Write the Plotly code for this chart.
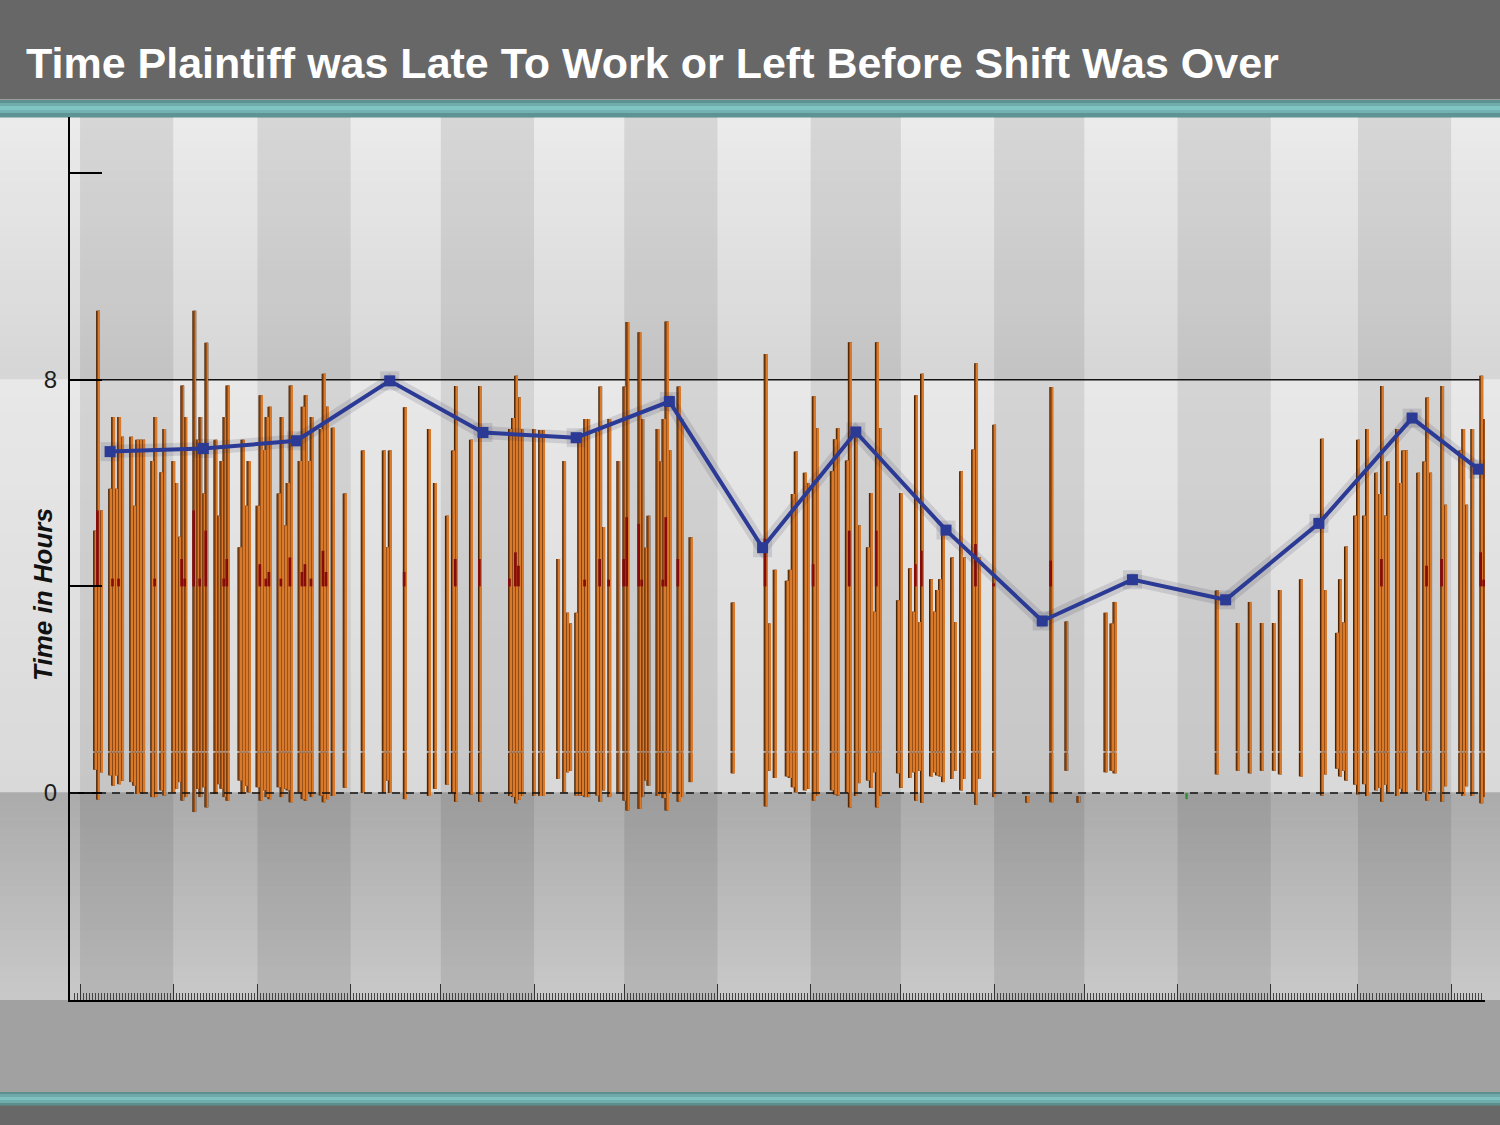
import numpy as np
import pandas as pd
import plotly.graph_objects as go

# ---------------- data ----------------
START = pd.Timestamp("1999-01-01")

# workday (days since START), departure time (top, hours) and arrival offset (bottom, hours)
bar_days = [5, 6, 7, 10, 11, 12, 13, 14, 17, 18, 19, 20, 21, 24, 25, 27, 28, 31, 32, 33, 34, 35,
            38, 39, 40, 41, 42, 45, 46, 47, 48, 49, 53, 54, 55, 56, 59, 60, 61, 62, 63, 66, 67, 68,
            69, 70, 73, 74, 75, 76, 77,
            80, 81, 82, 84, 88, 94, 101, 102, 103, 108, 116, 118, 122, 124, 125, 130, 133, 143, 144,
            145, 146, 147, 151, 153, 154, 159,
            161, 162, 163, 165, 166, 167, 168, 169, 172, 173, 174, 176, 179, 181, 182, 186, 187, 188,
            189, 192, 193, 194, 195, 196, 199, 200, 203, 217, 228, 229, 231, 235, 236, 237, 238,
            241, 242, 244, 245, 250, 251, 252, 255, 256, 258, 259, 262, 263, 264, 265, 266, 272, 273,
            276, 277, 278, 279, 280, 283, 284, 285, 286, 287, 290, 291, 293, 294, 297, 298, 299, 304,
            315, 323, 328, 332, 341, 343, 344, 378, 385, 389, 393, 397, 399,
            406, 413, 414, 418, 419, 420, 421, 424, 425, 427, 428, 431, 432, 433, 434, 435, 438, 439,
            440, 441, 445, 447, 448, 449, 453, 454, 459, 460, 461, 463, 466, 467]
bar_top = [5.08, 9.34, 5.47, 5.89, 7.28, 5.89, 7.28, 6.90, 6.90, 5.56, 6.84, 6.84, 6.84, 6.43, 7.28,
           6.21, 7.05, 6.43, 6.00, 4.96, 7.89, 7.28,
           9.34, 6.84, 7.28, 5.80, 8.72, 6.84, 5.37, 6.43, 7.28, 7.89, 4.76, 6.84, 5.56, 6.43, 5.56,
           7.70, 6.64, 7.28, 7.48, 5.80, 7.28, 5.18,
           6.00, 7.89, 6.43, 7.48, 7.70, 6.43, 7.28,
           7.05, 8.12, 7.48, 7.07, 5.80, 6.63, 6.63, 4.76, 6.63, 7.47, 7.05, 6.00, 5.37, 6.63, 7.88,
           6.84, 7.88, 7.05, 7.26,
           8.08, 7.66, 7.05, 7.05, 7.03, 7.03, 4.53,
           6.43, 3.49, 3.28, 3.49, 6.97, 6.97, 7.24, 7.24, 6.99, 7.87, 5.15, 7.24, 6.43, 7.87, 9.12,
           8.92, 7.24, 4.75,
           5.37, 7.05, 6.42, 7.24, 9.13, 6.63, 7.87, 7.24, 4.95, 3.69, 8.50, 3.28, 4.32, 4.11, 4.32,
           5.79, 6.61,
           6.20, 6.00, 7.68, 7.06, 6.23, 6.85, 7.06, 6.44, 8.73, 6.89, 5.18, 4.76, 5.81, 3.51, 8.73,
           7.06, 3.73, 5.81,
           4.35, 3.51, 7.70, 3.31, 8.12, 4.14, 3.51, 3.93, 4.14, 5.08, 4.56, 3.31, 6.23, 4.56, 6.65,
           8.32, 4.56, 7.13,
           -0.06, 7.86, 3.32, -0.06, 3.49, 3.28, 3.70, 3.92, 3.29, 3.70, 3.29, 3.29, 3.93,
           4.14, 6.86, 3.93, 3.10, 4.14, 3.30, 4.77, 5.37, 6.84, 5.37, 7.05, 6.20, 5.79, 7.88, 5.37,
           6.42, 7.05, 6.00,
           6.63, 6.63, 6.20, 6.42, 7.66, 6.20, 7.88, 5.58, 6.63, 7.05, 5.58, 7.05, 8.08, 7.24]
bar_bottom = [0.45, -0.13, 0.40, 0.34, 0.14, 0.34, 0.17, 0.24, 0.21, 0.14, -0.02, 0.01, -0.02, -0.08,
              -0.08, 0.05, -0.05, 0.01, 0.08, 0.21, -0.15, -0.08,
              -0.37, 0.08, -0.08, 0.11, -0.28, -0.02, 0.17, 0.08, -0.08, -0.15, 0.24, -0.02, 0.14,
              0.01, 0.11, -0.15, 0.05, -0.08, -0.12, 0.11, -0.08, 0.08,
              0.05, -0.18, 0.01, -0.12, -0.15, 0.01, -0.08,
              -0.05, -0.18, -0.12, -0.06, 0.10, 0.00, 0.00, 0.24, 0.00, -0.12, -0.06, 0.08, 0.16,
              0.00, -0.17, -0.03, -0.17, -0.06, -0.08,
              -0.20, -0.13, -0.06, -0.06, -0.06, -0.06, 0.27,
              0.01, 0.40, 0.43, -0.05, -0.05, -0.05, -0.08, -0.08, -0.05, -0.17, 0.05, -0.08, 0.01,
              -0.15, -0.34, -0.31, -0.08, 0.24,
              0.14, -0.06, 0.01, -0.10, -0.34, 0.00, -0.17, -0.08, 0.21, 0.38, -0.26, 0.43, 0.29,
              0.32, 0.29, 0.11, 0.01,
              0.05, 0.08, -0.15, -0.06, 0.05, -0.03, -0.05, 0.01, -0.28, -0.06, 0.19, 0.24, 0.10,
              0.40, -0.28, -0.05, 0.38, 0.10,
              0.29, 0.40, -0.15, 0.43, -0.19, 0.32, 0.40, 0.34, 0.32, 0.21, 0.27, 0.43, 0.05, 0.27,
              0.01, -0.23, 0.27, -0.08,
              -0.19, -0.18, 0.43, -0.19, 0.40, 0.43, 0.38, 0.36, 0.43, 0.38, 0.43, 0.43, 0.36,
              0.32, -0.05, 0.36, 0.47, 0.32, 0.43, 0.24, 0.16, -0.03, 0.17, -0.06, 0.05, 0.10, -0.17,
              0.16, 0.01, -0.06, 0.08,
              0.00, 0.00, 0.05, 0.01, -0.15, 0.05, -0.17, 0.13, 0.00, -0.06, 0.13, -0.06, -0.20,
              -0.08]

# lunch-break segments (dark red), from LUNCH_FROM up to lunch_top
LUNCH_FROM = 4.0
lunch_days = [6, 11, 13, 25, 34, 35, 38, 40, 42, 48, 49, 60, 62, 63, 67, 70, 74, 75, 77,
              81, 82, 108, 125, 133, 143, 145, 146,
              168, 173, 176, 181, 182, 186, 187, 194, 195, 199, 228,
              244, 256, 265, 278, 280, 298, 304, 323, 433, 448, 453, 466, 467]
lunch_top = [5.47, 4.15, 4.15, 4.15, 4.53, 4.15, 5.47, 4.15, 5.08, 4.15, 4.53, 4.43, 4.15, 4.28,
             4.15, 4.56, 4.28, 4.43, 4.15,
             4.69, 4.28, 4.28, 4.53, 4.53, 4.15, 4.66, 4.40,
             4.13, 4.53, 4.13, 4.53, 5.34, 5.21, 4.13, 4.13, 5.34, 4.53, 4.92,
             4.43, 5.08, 5.08, 4.43, 4.69, 4.82, 4.06, 4.50, 4.53, 4.40, 4.53, 4.66, 4.13]

# small negative entry shown in green
green_days = [368]
green_bottom = [-0.12]

# monthly average line
avg_days = [10, 41, 72, 103, 134, 165, 196, 227, 258, 288, 320, 350, 381, 412, 443, 465]
avg_hours = [6.61, 6.67, 6.82, 7.98, 6.98, 6.88, 7.58, 4.75, 6.99, 5.09, 3.33, 4.13, 3.74, 5.22,
             7.26, 6.27]

SHIFT_HOURS = 8
Y_TICKS = [0, 4, 8, 12]
Y_TICK_TEXT = ["0", "", "8", ""]
TITLE = "Time Plaintiff was Late To Work or Left Before Shift Was Over"
Y_TITLE = "Time in Hours"

# ---------------- geometry / styling ----------------
W, H = 1500, 1125
PX_L, PX_R, PX_T, PX_B = 70, 1485, 117, 1000
Y0, Y1 = -4.01, 13.09
DAY_MS = 86400000
X0 = START - pd.Timedelta(days=3.33)
X1 = START + pd.Timedelta(days=467.25)
XD = [PX_L / W, PX_R / W]
YD = [1 - PX_B / H, 1 - PX_T / H]


def py(v):
    return YD[0] + (v - Y0) / (Y1 - Y0) * (YD[1] - YD[0])


def ppx(ypx):
    return 1 - ypx / H


def hexc(c):
    c = c.lstrip('#')
    return [int(c[i:i + 2], 16) for i in (0, 2, 4)]


def mix(c0, c1, t):
    a, b = hexc(c0), hexc(c1)
    return 'rgb(%d,%d,%d)' % tuple(round(a[i] + (b[i] - a[i]) * t) for i in range(3))


shapes = []


def grad(y0, y1, cbot, ctop, n=24, x0=0, x1=1):
    for i in range(n):
        ya = y0 + (y1 - y0) * i / n
        yb = y0 + (y1 - y0) * (i + 1) / n
        shapes.append(dict(type='rect', xref='paper', yref='paper', x0=x0, x1=x1, y0=ya, y1=yb + 0.0005,
                           fillcolor=mix(cbot, ctop, (i + 0.5) / n), line=dict(width=0), layer='below'))


# horizontal zones
grad(py(SHIFT_HOURS), YD[1], '#d6d6d6', '#ebebeb')
grad(py(0), py(SHIFT_HOURS), '#d9d9d9', '#e8e8e8')
grad(YD[0], py(0), '#c9c9c9', '#ababab')
# bottom area and header
shapes.append(dict(type='rect', xref='paper', yref='paper', x0=0, x1=1, y0=ppx(1092), y1=YD[0],
                   fillcolor='#a1a1a1', line=dict(width=0), layer='below'))
shapes.append(dict(type='rect', xref='paper', yref='paper', x0=0, x1=1, y0=0, y1=ppx(1105),
                   fillcolor='#686868', line=dict(width=0), layer='below'))
shapes.append(dict(type='rect', xref='paper', yref='paper', x0=0, x1=1, y0=ppx(99), y1=1,
                   fillcolor='#676767', line=dict(width=0), layer='below'))
for (a, b, c) in [(99, 100, '#9c9c9c'), (100, 103, '#5e9191'), (103, 106, '#6fabab'),
                  (106, 110, '#80c4c4'), (110, 113, '#72b2b2'), (113, 117.5, '#5d9393'),
                  (1092, 1094, '#5e8f8f'), (1094, 1097, '#6fa9a9'), (1097, 1100, '#7fc0c0'),
                  (1100, 1103, '#70acac'), (1103, 1105.5, '#5d8e8e')]:
    shapes.append(dict(type='rect', xref='paper', yref='paper', x0=0, x1=1, y0=ppx(b), y1=ppx(a),
                       fillcolor=c, line=dict(width=0), layer='below'))

# alternating month bands (odd months darker)
months = pd.date_range('1999-01-01', '2000-05-01', freq='MS')
for m0, m1 in zip(months[:-1], months[1:]):
    if m0.month % 2 == 1:
        shapes.append(dict(type='rect', xref='x', yref='paper', x0=m0, x1=min(m1, X1),
                           y0=YD[0], y1=YD[1], fillcolor='rgba(0,0,0,0.085)', line=dict(width=0),
                           layer='below'))

# reference lines
shapes.append(dict(type='line', xref='paper', yref='y', x0=XD[0], x1=XD[1] - 0.003,
                   y0=SHIFT_HOURS, y1=SHIFT_HOURS, line=dict(color='#111', width=1.5), layer='below'))
shapes.append(dict(type='line', xref='paper', yref='y', x0=XD[0], x1=XD[1] - 0.003, y0=0, y1=0,
                   line=dict(color='#111', width=1.5, dash='8px,6px'), layer='above'))

# ---------------- traces ----------------
days = np.array(bar_days)
top = np.array(bar_top)
bot = np.array(bar_bottom)
xd = START + pd.to_timedelta(days, unit='D')
SPLIT, GAP = 0.78, 0.025
low_base = bot
low_h = np.clip(np.minimum(top, SPLIT) - bot, 0, None)
up_base = np.full_like(top, SPLIT + GAP)
up_h = np.clip(top - (SPLIT + GAP), 0, None)

fig = go.Figure()
layers = [('#4a2305', 1.3, -0.65), ('#9c5218', 0.9, -0.3), ('#d97a2b', 0.3, 0.25)]
for base, hgt in [(low_base, low_h), (up_base, up_h)]:
    for col, w, off in layers:
        fig.add_trace(go.Bar(x=xd, y=hgt, base=base, width=w * DAY_MS, offset=off * DAY_MS,
                             marker=dict(color=col, line=dict(width=0)), showlegend=False,
                             hoverinfo='skip'))

ld = START + pd.to_timedelta(np.array(lunch_days), unit='D')
fig.add_trace(go.Bar(x=ld, y=np.array(lunch_top) - LUNCH_FROM, base=LUNCH_FROM,
                     width=0.9 * DAY_MS, offset=-0.65 * DAY_MS,
                     marker=dict(color='#860b0b', line=dict(width=0)), showlegend=False))
gd = START + pd.to_timedelta(np.array(green_days), unit='D')
fig.add_trace(go.Bar(x=gd, y=green_bottom, base=0, width=0.8 * DAY_MS, offset=-0.4 * DAY_MS,
                     marker=dict(color='#2f8f3a', line=dict(width=0)), showlegend=False))

ad = START + pd.to_timedelta(np.array(avg_days), unit='D')
fig.add_trace(go.Scatter(x=ad, y=avg_hours, mode='lines+markers',
                         line=dict(color='rgba(40,40,70,0.13)', width=13),
                         marker=dict(symbol='square', size=19, color='rgba(40,40,70,0.13)'),
                         showlegend=False, hoverinfo='skip'))
fig.add_trace(go.Scatter(x=ad, y=avg_hours, mode='lines+markers',
                         line=dict(color='#2b3a94', width=4),
                         marker=dict(symbol='square', size=11, color='#2b3a94'),
                         showlegend=False))

fig.update_layout(
    width=W, height=H, margin=dict(l=0, r=0, t=0, b=0, autoexpand=False),
    paper_bgcolor='#d0d0d0', plot_bgcolor='rgba(0,0,0,0)', barmode='overlay',
    shapes=shapes, showlegend=False,
    xaxis=dict(type='date', range=[X0, X1], domain=XD, showline=True, linecolor='#000',
               linewidth=2, ticks='inside', ticklen=16, tickwidth=1, tickcolor='#333',
               tick0='1999-01-01', dtick='M1', showticklabels=False, showgrid=False,
               zeroline=False, fixedrange=True,
               minor=dict(ticks='inside', ticklen=7, tickwidth=1, tickcolor='#444',
                          dtick=DAY_MS, tick0='1999-01-01', showgrid=False)),
    yaxis=dict(range=[Y0, Y1], domain=YD, showline=True, linecolor='#000', linewidth=2,
               tickvals=Y_TICKS, ticktext=Y_TICK_TEXT, ticks='inside', ticklen=32, tickwidth=1.5,
               tickcolor='#000', showgrid=False, zeroline=False, fixedrange=True,
               tickfont=dict(family='Liberation Sans, Arial, sans-serif', size=24, color='#1e1e1e'),
               ticklabelstandoff=6),
    annotations=[
        dict(text='<b>' + TITLE + '</b>', xref='paper', yref='paper', x=24 / W, y=ppx(63),
             xanchor='left', yanchor='middle', showarrow=False,
             font=dict(family='Liberation Sans, Arial, sans-serif', size=43, color='#ffffff')),
        dict(text='<b><i>' + Y_TITLE + '</i></b>', xref='paper', yref='paper', x=43 / W, y=ppx(595),
             xanchor='center', yanchor='middle', textangle=-90, showarrow=False,
             font=dict(family='Liberation Sans, Arial, sans-serif', size=26, color='#111')),
    ],
)

fig.write_html("out.html", config={'displayModeBar': False},
               post_script="document.body.style.margin='0px';document.body.style.padding='0px';")
